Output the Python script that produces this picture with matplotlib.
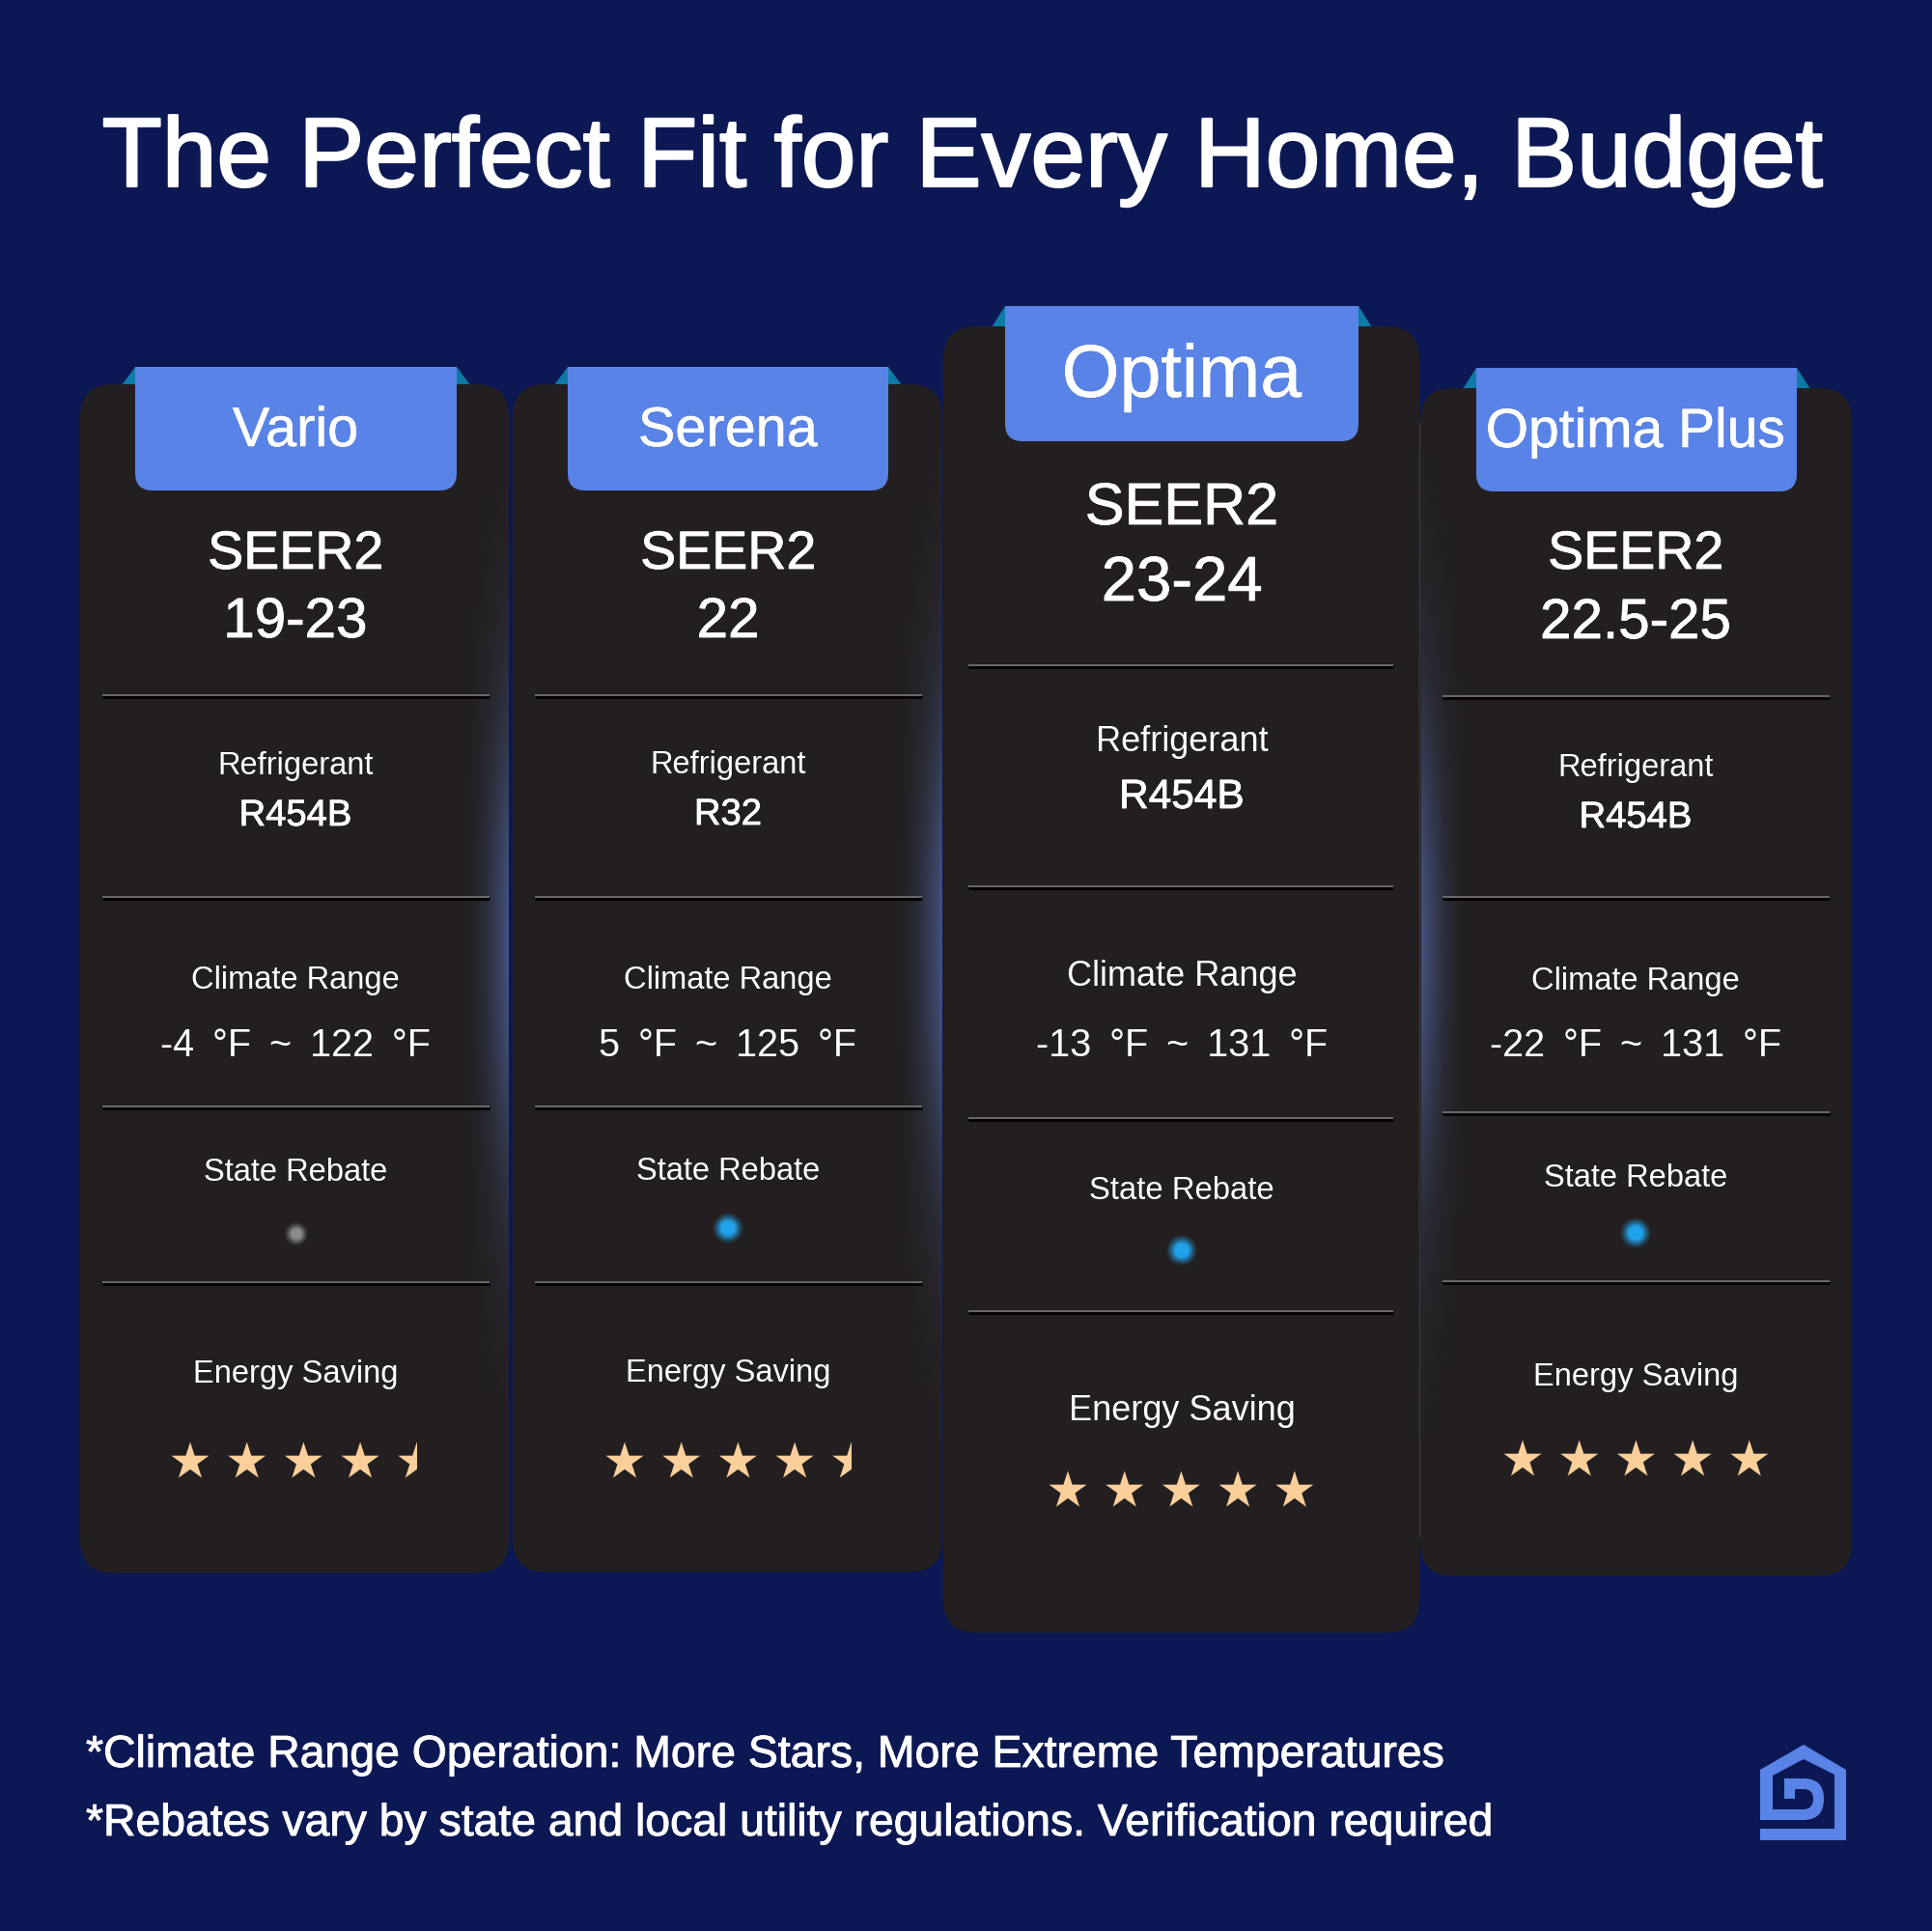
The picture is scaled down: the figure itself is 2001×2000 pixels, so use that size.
import numpy as np
import matplotlib
matplotlib.use("Agg")
import matplotlib.pyplot as plt
from matplotlib.patches import FancyBboxPatch, Polygon, PathPatch, Rectangle
from matplotlib.path import Path
from matplotlib.transforms import Affine2D
import matplotlib.patheffects as pe

# data
models = ["Vario", "Serena", "Optima", "Optima Plus"]
seer2 = ["19-23", "22", "23-24", "22.5-25"]
refrigerants = ["R454B", "R32", "R454B", "R454B"]
climate_low = [-4, 5, -13, -22]
climate_high = [122, 125, 131, 131]
state_rebate = [False, True, True, True]
energy_stars = [4.5, 4.5, 5, 5]
title = "The Perfect Fit for Every Home, Budget"
footnotes = ["*Climate Range Operation: More Stars, More Extreme Temperatures",
             "*Rebates vary by state and local utility regulations. Verification required"]

# layout, in pixels of the picture
W, H = 2001, 2000
card_box = [(83, 398, 527, 1629), (531, 398, 976, 1628), (977, 338, 1470, 1691), (1471, 402, 1918, 1632)]
tab_box = [(140, 380, 473, 508), (588, 380, 920, 508), (1041, 317, 1407, 457), (1529, 381, 1861, 509)]
centers = [306, 754, 1224, 1694]
line_x = [(106, 507), (554, 955), (1003, 1443), (1494, 1895)]
line_y = [(720, 929, 1146, 1328), (720, 929, 1146, 1328), (689, 918, 1158, 1358), (721, 929, 1152, 1327)]
base_name = [462, 462, 411, 463]
base_seer = [(589, 660), (589, 660), (543, 622), (589, 661)]
base_ref = [(802, 855), (801, 854), (778, 837), (804, 857)]
base_clim = [(1024, 1094), (1024, 1094), (1021, 1094), (1025, 1094)]
base_state = [1223, 1222, 1242, 1229]
base_energy = [1432, 1431, 1471, 1435]
dot_y = [1278, 1272, 1295, 1277]
star_y = [1514, 1514, 1544, 1512]
star_x0 = [197, 647, 1106, 1577]
star_step = 58.7
star_r = 20.5
size_name = [41.5, 41.5, 55.5, 41]
size_seer = [40, 40, 44, 40]
size_range = [42, 42, 47, 42]
size_label = [23.5, 23.5, 26, 23.5]
size_state = [23.5, 23.5, 23.7, 23.5]
size_value = [27.5, 27.5, 30.5, 27.5]
size_temp = [28.5, 28.5, 28.5, 28.5]

BG = "#0c1854"
CARD = "#231f20"
TAB = "#5983e6"
FOLD = "#0e7ba6"
STAR = "#fbcf9a"
FONT = "Liberation Sans"
GAP = " \u2009"

plt.rcParams["font.family"] = FONT

fig = plt.figure(figsize=(W / 100, H / 100), dpi=100, facecolor=BG)
ax = fig.add_axes([0, 0, 1, 1])
ax.set_axis_off()


def side_glow(card, x0, x1, edge_at_right):
    # soft blue light along one side of a card
    xs = np.linspace(0, 1, 60)
    ys = np.linspace(card[1], card[3], 300)
    fade = xs ** 1.7 if edge_at_right else xs[::-1] ** 1.7
    a = 0.8 * np.exp(-((ys - 978) / 260) ** 2)[:, None] * fade[None, :]
    img = np.zeros((300, 60, 4))
    img[..., :3] = matplotlib.colors.to_rgb("#4c5f98")
    img[..., 3] = a
    ax.imshow(img, extent=(x0, x1, card[3], card[1]), aspect="auto", zorder=2, interpolation="bilinear")


def dot(x, y, color, core, outer):
    n = 80
    g = np.linspace(-outer, outer, n)
    d = np.hypot(*np.meshgrid(g, g))
    img = np.zeros((n, n, 4))
    img[..., :3] = matplotlib.colors.to_rgb(color)
    img[..., 3] = np.clip((outer - d) / (outer - core), 0, 1) ** 1.3
    ax.imshow(img, extent=(x - outer, x + outer, y + outer, y - outer), aspect="auto", zorder=4, interpolation="bilinear")


def draw_star(x, y, fill):
    star = Path.unit_regular_star(5, 0.382)
    tr = Affine2D().scale(star_r, -star_r).translate(x, y)
    p = PathPatch(tr.transform_path(star), facecolor=STAR, edgecolor="none", zorder=4)
    ax.add_patch(p)
    if fill < 1:
        p.set_clip_path(Rectangle((x - star_r, y - star_r), 2 * star_r * fill, 2.2 * star_r, transform=ax.transData))


def label(x, y, s, size, stroke=0.0, ha="center"):
    t = ax.text(x, y, s, color="white", fontsize=size, ha=ha, va="baseline", zorder=5)
    if stroke:
        t.set_path_effects([pe.withStroke(linewidth=stroke, foreground="white")])
    return t


for i, model in enumerate(models):
    x0, y0, x1, y1 = card_box[i]
    cx = centers[i]
    # folded ribbon corners behind the tab
    tx0, ty0, tx1, ty1 = tab_box[i]
    ax.add_patch(Polygon([(tx0 - 14, y0 + 1), (tx0, ty0), (tx0, y0 + 1)], color=FOLD, zorder=1, lw=0))
    ax.add_patch(Polygon([(tx1 + 14, y0 + 1), (tx1, ty0), (tx1, y0 + 1)], color=FOLD, zorder=1, lw=0))
    card = FancyBboxPatch((x0, y0), x1 - x0, y1 - y0, boxstyle="round,pad=0,rounding_size=34",
                          facecolor=CARD, edgecolor="none", zorder=2 if i != 2 else 2.5)
    ax.add_patch(card)
    if i == 2:
        ax.plot([x1, x1], [y0 + 100, y1 - 100], color="#3a3b48", lw=0.9, zorder=2.6)

    # tab with rounded lower corners only
    ax.add_patch(FancyBboxPatch((tx0, ty0), tx1 - tx0, ty1 - ty0, boxstyle="round,pad=0,rounding_size=18",
                                facecolor=TAB, edgecolor="none", zorder=3))
    ax.add_patch(Rectangle((tx0, ty0), tx1 - tx0, 40, facecolor=TAB, edgecolor="none", zorder=3))
    label(cx, base_name[i], model, size_name[i], 0.4)

    label(cx, base_seer[i][0], "SEER2", size_seer[i], 0.6)
    label(cx, base_seer[i][1], seer2[i], size_range[i], 0.6)

    for y in line_y[i]:
        ax.plot(line_x[i], [y + 2.2, y + 2.2], color="black", lw=2.0, solid_capstyle="butt", zorder=3)
        ax.plot(line_x[i], [y, y], color="#7d7d7d", lw=1.1, solid_capstyle="butt", zorder=3)

    label(cx, base_ref[i][0], "Refrigerant", size_label[i])
    label(cx, base_ref[i][1], refrigerants[i], size_value[i], 0.6)
    label(cx, base_clim[i][0], "Climate Range", size_label[i])
    temp = f"{climate_low[i]}{GAP}°F{GAP}~{GAP}{climate_high[i]}{GAP}°F"
    label(cx, base_clim[i][1], temp, size_temp[i])
    label(cx, base_state[i], "State Rebate", size_state[i])
    if state_rebate[i]:
        dot(cx, dot_y[i], "#21a3ea", 7, 17)
    else:
        dot(cx + 1, dot_y[i], "#8c8c8c", 5, 13)
    label(cx, base_energy[i], "Energy Saving", size_label[i])

    # a star is cut when the rating stops inside it
    for k in range(int(np.ceil(energy_stars[i]))):
        draw_star(star_x0[i] + k * star_step, star_y[i], min(1, energy_stars[i] - k))

side_glow(card_box[0], 480, 527, True)
side_glow(card_box[1], 928, 976, True)
side_glow(card_box[3], 1472, 1520, False)

label(W / 2 - 4, 193, title, 73.3, 1.6)
label(89, 1830, footnotes[0], 33.4, 0.7, ha="left")
label(89, 1901, footnotes[1], 33.35, 0.7, ha="left")

# logo: house outline running into a D
M, L, C, Z = Path.MOVETO, Path.LINETO, Path.CURVE3, Path.CLOSEPOLY
logo = [(M, (1823, 1894)), (L, (1900, 1894)), (L, (1900, 1838)), (L, (1868, 1822)), (L, (1836, 1839)),
        (L, (1836, 1874)), (L, (1868, 1874)), (C, (1878, 1874)), (C, (1878, 1863)), (C, (1878, 1853)),
        (C, (1868, 1853)), (L, (1859, 1853)), (L, (1859, 1863)), (L, (1848, 1863)), (L, (1848, 1842)),
        (L, (1868, 1842)), (C, (1889, 1842)), (C, (1889, 1863)), (C, (1889, 1885)), (C, (1868, 1885)),
        (L, (1823, 1885)), (L, (1823, 1833)), (L, (1868, 1807)), (L, (1912, 1833)), (L, (1912, 1906)),
        (L, (1823, 1906)), (Z, (1823, 1894))]
ax.add_patch(PathPatch(Path([p for _, p in logo], [c for c, _ in logo]), facecolor=TAB, edgecolor="none", zorder=3))

ax.set_xlim(0, W)
ax.set_ylim(H, 0)
fig.savefig("out.png", dpi=100, facecolor=BG)
